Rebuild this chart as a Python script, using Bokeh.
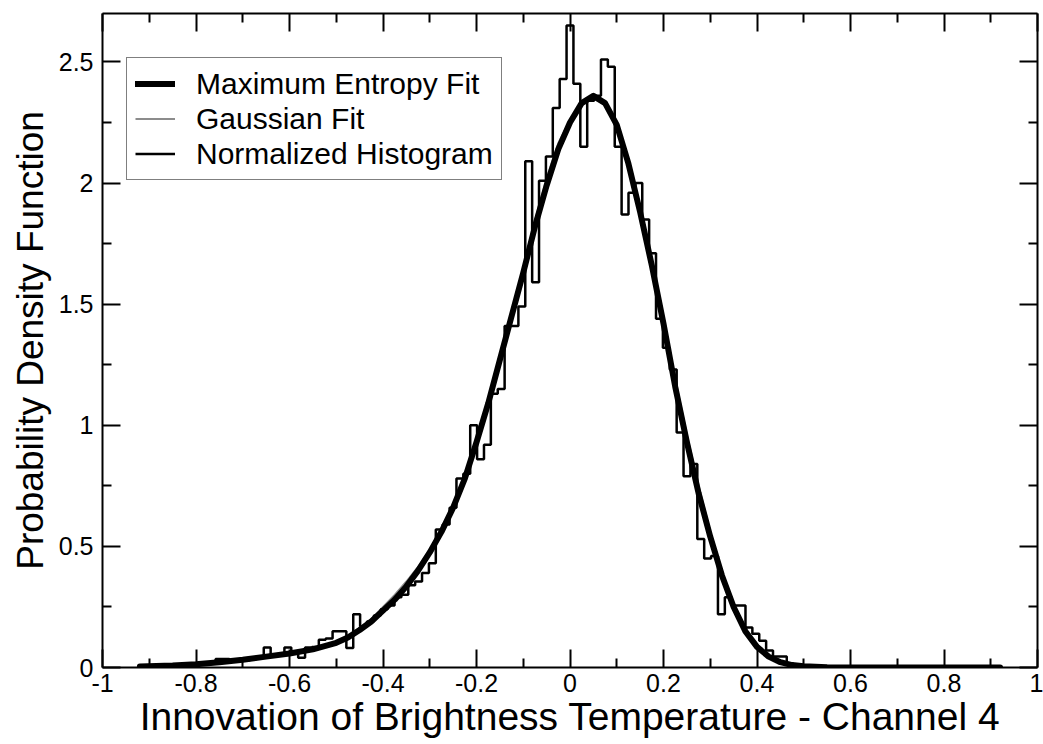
from bokeh.plotting import figure
from bokeh.models import (Range1d, LinearAxis, FixedTicker, Legend, LegendItem,
                          CustomJSTickFormatter)
from bokeh.embed import file_html
from bokeh.resources import INLINE

# ---------------- data ----------------
X_TICKS = [-1.0, -0.8, -0.6, -0.4, -0.2, 0.0, 0.2, 0.4, 0.6, 0.8, 1.0]
X_TICK_LABELS = ["-1", "-0.8", "-0.6", "-0.4", "-0.2", "0", "0.2", "0.4", "0.6", "0.8", "1"]
X_MINOR = [-0.9, -0.7, -0.5, -0.3, -0.1, 0.1, 0.3, 0.5, 0.7, 0.9]
Y_TICKS = [0.0, 0.5, 1.0, 1.5, 2.0, 2.5]
Y_TICK_LABELS = ["0", "0.5", "1", "1.5", "2", "2.5"]
Y_MINOR = [0.25, 0.75, 1.25, 1.75, 2.25]

HIST_START = -0.92
HIST_BIN_WIDTH = 0.01472
HIST_DENSITY = [
    0.005, 0.005, 0.008, 0.008, 0.010, 0.010, 0.012, 0.012, 0.015, 0.015,
    0.020, 0.035, 0.035, 0.025, 0.030, 0.030, 0.035, 0.040, 0.083, 0.050,
    0.055, 0.083, 0.060, 0.040, 0.083, 0.085, 0.115, 0.120, 0.150, 0.150,
    0.081, 0.220, 0.170, 0.190, 0.215, 0.240, 0.256, 0.290, 0.300, 0.340,
    0.355, 0.390, 0.430, 0.570, 0.590, 0.660, 0.780, 0.800, 1.000, 0.860,
    0.920, 1.130, 1.150, 1.410, 1.410, 1.490, 2.090, 1.590, 2.010, 2.110,
    2.310, 2.430, 2.650, 2.410, 2.150, 2.340, 2.360, 2.510, 2.480, 2.150,
    1.870, 1.960, 2.000, 1.850, 1.710, 1.440, 1.320, 1.230, 0.970, 0.790,
    0.840, 0.530, 0.450, 0.460, 0.220, 0.290, 0.256, 0.256, 0.165, 0.139,
    0.110, 0.070, 0.045, 0.045, 0.015, 0.010, 0.005, 0.005, 0.003, 0.002,
    0.0, 0.0, 0.0, 0.0, 0.0, 0.0, 0.0, 0.0, 0.0, 0.0,
    0.0, 0.0, 0.0, 0.0, 0.0, 0.0, 0.0, 0.0, 0.0, 0.0,
    0.0, 0.0, 0.0, 0.0, 0.0,
]

MAXENT_X = [-0.92, -0.85, -0.80, -0.75, -0.70, -0.65, -0.60, -0.55, -0.50, -0.475,
            -0.45, -0.425, -0.40, -0.375, -0.35, -0.325, -0.30, -0.275, -0.25, -0.225,
            -0.20, -0.175, -0.15, -0.125, -0.10, -0.075, -0.05, -0.025, 0.0, 0.025,
            0.05, 0.075, 0.10, 0.125, 0.15, 0.175, 0.20, 0.225, 0.25, 0.275,
            0.30, 0.325, 0.35, 0.375, 0.40, 0.425, 0.45, 0.475, 0.50, 0.55,
            0.60, 0.70, 0.80, 0.92]
MAXENT_PDF = [0.004, 0.008, 0.013, 0.022, 0.032, 0.045, 0.058, 0.075, 0.102, 0.124,
              0.155, 0.190, 0.235, 0.280, 0.335, 0.400, 0.475, 0.560, 0.660, 0.780,
              0.930, 1.090, 1.270, 1.450, 1.630, 1.820, 1.990, 2.140, 2.250, 2.330,
              2.360, 2.330, 2.240, 2.080, 1.880, 1.660, 1.420, 1.160, 0.930, 0.720,
              0.540, 0.380, 0.250, 0.150, 0.085, 0.045, 0.022, 0.010, 0.005, 0.0015,
              0.0005, 0.0, 0.0, 0.0]

GAUSS_X = [-0.92, -0.85, -0.80, -0.75, -0.70, -0.65, -0.60, -0.55, -0.50, -0.475,
           -0.45, -0.425, -0.40, -0.375, -0.35, -0.325, -0.30, -0.275, -0.25, -0.225,
           -0.20, -0.175, -0.15, -0.125, -0.10, -0.075, -0.05, -0.025, 0.0, 0.025,
           0.05, 0.075, 0.10, 0.125, 0.15, 0.175, 0.20, 0.225, 0.25, 0.275,
           0.30, 0.325, 0.35, 0.375, 0.40, 0.425, 0.45, 0.475, 0.50, 0.55,
           0.60, 0.70, 0.80, 0.92]
GAUSS_PDF = [0.004, 0.008, 0.013, 0.022, 0.032, 0.045, 0.058, 0.076, 0.104, 0.128,
             0.162, 0.200, 0.250, 0.300, 0.355, 0.415, 0.485, 0.565, 0.665, 0.785,
             0.935, 1.095, 1.280, 1.465, 1.650, 1.845, 2.020, 2.165, 2.260, 2.325,
             2.350, 2.325, 2.240, 2.085, 1.890, 1.675, 1.440, 1.190, 0.960, 0.750,
             0.560, 0.395, 0.260, 0.158, 0.090, 0.048, 0.024, 0.011, 0.005, 0.0015,
             0.0005, 0.0, 0.0, 0.0]

LEGEND_LABELS = ["Maximum Entropy Fit", "Gaussian Fit", "Normalized Histogram"]
X_TITLE = "Innovation of Brightness Temperature - Channel 4"
Y_TITLE = "Probability Density Function"

FONT = "Liberation Sans"

# -------------- figure ----------------
p = figure(width=1043, height=744, output_backend="svg", toolbar_location=None,
           x_range=Range1d(-1, 1), y_range=Range1d(0, 2.7),
           x_axis_type=None, y_axis_type=None,
           min_border_left=102, min_border_right=6, min_border_top=13, min_border_bottom=77)
p.background_fill_color = "white"
p.border_fill_color = "white"
p.outline_line_color = None
p.xgrid.visible = False
p.ygrid.visible = False


def label_formatter(tick_values, tick_labels):
    return CustomJSTickFormatter(args=dict(tv=tick_values, tl=tick_labels), code="""
        for (let i = 0; i < tv.length; i++) {
            if (Math.abs(tick - tv[i]) < 1e-9) { return tl[i]; }
        }
        return '';
    """)


def blank_formatter():
    return CustomJSTickFormatter(code="return '';")


def style_axis(ax):
    ax.axis_line_width = 2
    ax.axis_line_color = "black"
    ax.major_tick_in = 18
    ax.major_tick_out = 0
    ax.minor_tick_in = 9
    ax.minor_tick_out = 0
    ax.major_tick_line_width = 2
    ax.minor_tick_line_width = 2
    ax.major_tick_line_color = "black"
    ax.minor_tick_line_color = "black"
    ax.major_label_text_font = FONT
    ax.major_label_text_font_size = "25px"
    ax.major_label_text_color = "black"
    ax.axis_label_text_font = FONT
    ax.axis_label_text_font_style = "normal"
    ax.axis_label_text_color = "black"


xb = LinearAxis(ticker=FixedTicker(ticks=X_TICKS, minor_ticks=X_MINOR),
                formatter=label_formatter(X_TICKS, X_TICK_LABELS),
                axis_label=X_TITLE)
style_axis(xb)
xb.major_label_standoff = 6
xb.axis_label_text_font_size = "39px"
xb.axis_label_standoff = 0
p.add_layout(xb, "below")

yl = LinearAxis(ticker=FixedTicker(ticks=Y_TICKS, minor_ticks=Y_MINOR),
                formatter=label_formatter(Y_TICKS, Y_TICK_LABELS),
                axis_label=Y_TITLE)
style_axis(yl)
yl.major_label_standoff = 9
yl.major_label_orientation = "horizontal"
yl.axis_label_text_font_size = "37px"
yl.axis_label_standoff = 5
p.add_layout(yl, "left")

xt = LinearAxis(ticker=FixedTicker(ticks=X_TICKS, minor_ticks=X_MINOR),
                formatter=blank_formatter())
style_axis(xt)
xt.major_label_standoff = 0
p.add_layout(xt, "above")

yr = LinearAxis(ticker=FixedTicker(ticks=Y_TICKS, minor_ticks=Y_MINOR),
                formatter=blank_formatter())
style_axis(yr)
yr.major_label_standoff = 0
p.add_layout(yr, "right")

# -------------- glyphs ----------------
edges = [HIST_START + HIST_BIN_WIDTH * i for i in range(len(HIST_DENSITY) + 1)]
step_y = list(HIST_DENSITY) + [HIST_DENSITY[-1]]

r_gauss = p.line(GAUSS_X, GAUSS_PDF, line_color="#8c8c8c", line_width=2)
r_maxent = p.line(MAXENT_X, MAXENT_PDF, line_color="black", line_width=6,
                  line_join="round", line_cap="round")
r_hist = p.step(edges, step_y, mode="after", line_color="black", line_width=2.5)

legend = Legend(items=[LegendItem(label=LEGEND_LABELS[0], renderers=[r_maxent]),
                       LegendItem(label=LEGEND_LABELS[1], renderers=[r_gauss]),
                       LegendItem(label=LEGEND_LABELS[2], renderers=[r_hist])],
                location=(24, 487))
legend.label_text_font = FONT
legend.label_text_font_size = "30px"
legend.label_text_color = "black"
legend.label_height = 35
legend.glyph_height = 35
legend.glyph_width = 40
legend.label_standoff = 21
legend.spacing = 0
legend.padding = 8
legend.margin = 0
legend.border_line_color = "black"
legend.border_line_width = 1.5
legend.background_fill_color = "white"
legend.background_fill_alpha = 1.0
p.add_layout(legend, "center")

open("out.html", "w").write(file_html(p, INLINE))
